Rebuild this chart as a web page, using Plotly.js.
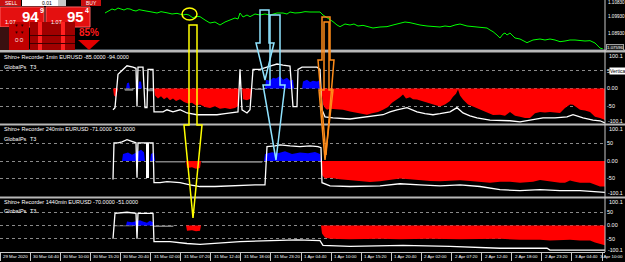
<!DOCTYPE html>
<html><head><meta charset="utf-8">
<script src="https://cdn.plot.ly/plotly-3.0.1.min.js"></script>
<style>html,body{margin:0;padding:0;background:#000;overflow:hidden}#chart{width:625px;height:262px}</style>
</head><body><div id="chart"></div>
<script>
// ---------- DATA ----------
const xTickLabels = ["29 Mar 2020","30 Mar 04:40","30 Mar 10:00","30 Mar 15:20","30 Mar 20:40","31 Mar 02:00","31 Mar 07:20","31 Mar 12:40","31 Mar 18:00","31 Mar 23:20","1 Apr 04:40","1 Apr 10:00","1 Apr 15:20","1 Apr 20:40","2 Apr 02:00","2 Apr 07:20","2 Apr 12:40","2 Apr 18:00","2 Apr 23:20","3 Apr 04:40","3 Apr 10:00"];
const xTickBars = [0,30.1,60.2,90.3,120.4,150.5,180.6,210.7,240.8,270.9,301,331.1,361.2,391.3,421.4,451.5,481.6,511.7,541.8,571.9,602];

const priceX = [105,108,112,115,118,121,124,127,130,133,136,139,142,146,150,153,157,161,165,168,172,177,183,186,189,193,196,200,205,210,215,220,225,230,235,238,240,243,247,250,255,260,265,270,274,277,283,287,290,295,300,305,310,317,320,323,328,333,337,340,345,350,354,358,363,367,373,380,387,393,400,405,410,415,420,427,433,440,445,450,455,460,467,473,480,487,490,493,497,500,503,505,507,510,513,515,520,524,527,533,540,545,550,555,560,565,570,575,580,585,590,595,598,600,603];
const priceY = [1.1023,1.1035,1.1047,1.1041,1.1053,1.1047,1.1041,1.1049,1.1047,1.1039,1.1035,1.1043,1.1041,1.1035,1.1031,1.1027,1.1023,1.1031,1.1029,1.1023,1.1017,1.1021,1.1011,1.1015,1.1011,1.0993,1.1003,1.1001,1.0981,1.0963,1.0969,1.0951,1.0969,1.0981,1.0993,1.0987,1.1023,1.0999,1.1011,1.1001,1.1017,1.1011,1.1017,1.1011,1.1019,1.1023,1.1023,1.1017,1.1029,1.1023,1.1025,1.1031,1.1029,1.1031,1.1029,1.1011,1.0993,1.0971,1.0951,1.0941,1.0957,1.0951,1.0957,1.0945,1.0949,1.0941,1.0933,1.0939,1.0941,1.0951,1.0963,1.0969,1.0965,1.0957,1.0951,1.0945,1.0941,1.0939,1.0945,1.0941,1.0951,1.0957,1.0945,1.0941,1.0939,1.0933,1.0921,1.0911,1.0891,1.0873,1.0897,1.0903,1.0891,1.0903,1.0885,1.0873,1.0867,1.0855,1.0845,1.0861,1.0867,1.0861,1.0867,1.0861,1.0851,1.0855,1.0861,1.0861,1.0857,1.0855,1.0857,1.0843,1.0825,1.0813,1.0807];
const priceTicks = [1.1083,1.0999,1.0897];
const priceTickText = ["1.10830","1.09930","1.08930"];
const lastPriceText = "1.07596";

// pane 1min
const m1LineX = [113,115,118,123,127,133,136,137,138,143,145,147,148,153,154,157,163,167,173,180,187,197,205,217,225,233,238,240,242,247,250,253,260,270,277,283,290,293,297,298,302,310,317,320,322,325,333,350,367,383,390,397,407,417,425,433,440,450,457,463,470,477,490,500,510,520,533,543,555,567,573,583,593,600,605];
const m1LineV = [-60,-54,40,54,64,60,57,-51,60,60,-54,-54,54,54,-66,-66,-66,-60,-66,-60,-69,-74,-74,-74,-71,-69,-66,54,-60,-69,-60,54,54,63,69,66,63,-51,-51,54,60,60,60,54,-60,-80,-83,-86,-80,-74,-66,-60,-54,-66,-71,-74,-71,-66,-54,-69,-77,-83,-89,-89,-91,-94,-89,-83,-83,-80,-74,-83,-89,-91,-97];
const m1RedX = [113,114,116,117,118,154,155,158,161,164,167,170,173,176,180,184,188,192,196,200,205,210,215,220,225,230,235,238,239,242,243,247,251,252,321,322,323,325,327,330,335,340,343,350,355,360,367,372,378,383,388,392,397,400,403,406,410,413,417,422,427,433,440,445,450,453,456,458,460,463,468,473,480,487,493,500,505,510,515,520,525,530,535,540,545,550,555,560,565,567,570,573,577,580,585,590,595,600,605];
const m1RedV = [0,-20,-25,-15,0,0,-20,-28,-22,-30,-25,-33,-28,-35,-30,-38,-42,-40,-48,-45,-52,-55,-50,-57,-55,-58,-55,-50,0,0,-30,-33,-28,0,0,-20,-45,-55,-60,-57,-58,-60,-60,-65,-68,-70,-74,-70,-66,-60,-52,-40,-31,-25,-17,-28,-25,-30,-31,-35,-40,-45,-51,-45,-35,-23,-15,-3,-20,-31,-45,-51,-60,-69,-75,-74,-77,-66,-77,-80,-83,-83,-70,-66,-68,-66,-68,-69,-55,-51,-45,-46,-55,-60,-62,-66,-80,-83,-89];
const m1BlueX = [126,127,129,130,138,139,141,142,265,266,270,273,276,280,283,287,290,293,294,302,303,307,310,313,317,320,321];
const m1BlueV = [0,15,17,0,0,20,20,0,0,25,22,30,28,35,25,30,22,25,0,0,20,25,18,22,20,24,0];
const m1GrayX = [124,125,133,134,146,147,153,154,254,255,263,264];
const m1GrayV = [0,-6,-6,0,0,-8,-8,0,0,-4,-4,0];

// pane 240min
const m240LineX = [113,114,118,122,127,133,136,137,138,147,153,154,160,167,180,190,200,215,230,240,255,265,267,275,280,290,300,310,318,321,322,330,350,380,400,420,440,460,480,500,520,540,560,580,600,605];
const m240LineV = [-53,52,52,55,61,55,52,-48,52,52,52,-62,-62,-59,-62,-68,-73,-73,-71,-68,-68,-68,41,43,46,43,41,43,41,38,-62,-71,-73,-71,-65,-68,-71,-68,-73,-82,-85,-82,-85,-85,-88,-90];
const m240RedX = [186,187,192,196,200,201,321,322,325,330,340,350,360,370,380,390,400,410,420,430,440,450,460,470,480,490,500,510,520,533,540,550,560,565,570,575,580,590,595,600,605];
const m240RedV = [0,-20,-18,-22,-20,0,0,-40,-50,-48,-52,-55,-58,-60,-58,-55,-50,-52,-55,-57,-58,-56,-55,-57,-60,-62,-59,-59,-62,-59,-54,-59,-62,-62,-56,-59,-62,-62,-68,-73,-73];
const m240BlueX = [122,123,128,132,135,138,141,144,145,150,151,154,155,264,265,272,278,285,292,300,308,315,320,321];
const m240BlueV = [0,20,24,18,22,28,32,25,0,0,20,25,0,0,20,25,22,28,20,24,22,26,20,0];
const m240GrayX = [155,156,185,186,201,202,262,263];
const m240GrayV = [0,-4,-4,0,0,-5,-5,0];
const m240BarX = [147.5];
const m240BarBase = [-48];
const m240BarLen = [100];

// pane 1440min
const m1440LineX = [113,115,127,136,137,138,147,153,154,170,187,200,240,277,297,320,323,350,403,450,500,547,550,600,605];
const m1440LineV = [-50,46,50,46,-50,46,46,46,-61,-61,-68,-71,-61,-57,-54,-57,-75,-79,-75,-79,-86,-86,-93,-93,-93];
const m1440RedX = [186,187,192,196,200,201,321,322,325,330,350,380,400,430,460,500,520,540,550,570,580,590,595,600,605];
const m1440RedV = [0,-20,-18,-22,-20,0,0,-30,-45,-50,-52,-50,-52,-50,-52,-50,-54,-54,-57,-54,-57,-57,-64,-71,-75];
const m1440BlueX = [126,127,132,137,140,143,147,150,153,154];
const m1440BlueV = [0,15,12,18,20,15,10,18,12,0];
const m1440GrayX = [113,114,133,134,153,154,173,174];
const m1440GrayV = [0,-3,-3,0,0,-6,-6,0];

const oscTickVals = [50,0,-50];
const oscTickText = ["50","0.00","-50"];
const oscEdgeText = ["100.1","-100.1"];

// ---------- BUILD ----------
const FONT = "Liberation Sans, Arial, sans-serif";
function fillTrace(x, y, ya, color){
  return {type:'scatter', mode:'lines', x:x, y:y, yaxis:ya, xaxis:'x', fill:'tozeroy', fillcolor:color, line:{width:0, color:color}, hoverinfo:'skip', showlegend:false};
}
function lineTrace(x, y, ya, color, w){
  return {type:'scatter', mode:'lines', x:x, y:y, yaxis:ya, xaxis:'x', line:{width:w, color:color}, hoverinfo:'skip', showlegend:false};
}
const traces = [
  lineTrace(priceX, priceY, 'y', '#00ff00', 1),
  fillTrace(m1RedX, m1RedV, 'y2', '#ff0000'),
  fillTrace(m1BlueX, m1BlueV, 'y2', '#0000ff'),
  fillTrace(m1GrayX, m1GrayV, 'y2', '#808080'),
  lineTrace(m1LineX, m1LineV, 'y2', '#ffffff', 1.3),
  fillTrace(m240RedX, m240RedV, 'y3', '#ff0000'),
  fillTrace(m240BlueX, m240BlueV, 'y3', '#0000ff'),
  fillTrace(m240GrayX, m240GrayV, 'y3', '#808080'),
  {type:'bar', x:m240BarX, y:m240BarLen, base:m240BarBase, width:3, yaxis:'y3', xaxis:'x', marker:{color:'#ffffff', line:{width:0}}, hoverinfo:'skip', showlegend:false},
  lineTrace(m240LineX, m240LineV, 'y3', '#ffffff', 1.3),
  fillTrace(m1440RedX, m1440RedV, 'y4', '#ff0000'),
  fillTrace(m1440BlueX, m1440BlueV, 'y4', '#0000ff'),
  fillTrace(m1440GrayX, m1440GrayV, 'y4', '#808080'),
  lineTrace(m1440LineX, m1440LineV, 'y4', '#ffffff', 1.3)
];

const H = 252, W = 625;
const px = x => x / W, py = y => (H - y) / H;
function rect(x0, y0, x1, y1, fill, lc){
  return {type:'rect', xref:'paper', yref:'paper', x0:px(x0), x1:px(x1), y0:py(y1), y1:py(y0), fillcolor:fill, line:{width: lc ? 1 : 0, color: lc || fill}, layer:'above'};
}
function poly(pts, color, fill, w){
  const d = 'M ' + pts.map(p => px(p[0]) + ',' + py(p[1])).join(' L ') + ' Z';
  return {type:'path', xref:'paper', yref:'paper', path:d, line:{color:color, width:w}, fillcolor:fill, layer:'above'};
}
function ann(x, y, text, size, color, opts){
  return Object.assign({xref:'paper', yref:'paper', x:px(x), y:py(y), text:text, showarrow:false, xanchor:'left', yanchor:'middle', font:{family:FONT, size:size, color:color}}, opts || {});
}

const oscAxis = (dom, ttext) => ({domain:dom, range:[-100.1,100.1], side:'right', anchor:'x', tickvals:oscTickVals, ticktext:ttext, showgrid:true, gridcolor:'#8a8a8a', griddash:'dot', gridwidth:1, zeroline:false, showline:false, ticks:'', ticklabelstandoff:1, tickfont:{family:FONT, size:5.5, color:'#ffffff'}, fixedrange:true});

const shapes = [
  rect(0, 49, 625, 50, '#404850'),
  rect(0, 50, 625, 52.5, '#b8b8b8'),
  rect(0, 123.5, 625, 125.5, '#b8b8b8'),
  rect(0, 196.5, 625, 198.5, '#b8b8b8'),
  {type:'line', xref:'paper', yref:'paper', x0:px(605), x1:px(605), y0:py(252), y1:py(0), line:{color:'#c8c8c8', width:1}, layer:'above'},
  // trade panel
  rect(0, 0, 21, 6, '#c81010'),
  rect(22, 0, 58, 6, '#ffffff'),
  rect(58, 0, 66, 6, '#c8c8c8'),
  rect(81, 0, 101, 6, '#c81010'),
  rect(0, 7, 44, 27, '#e41010', '#ff6060'),
  rect(46, 7, 90, 27, '#e41010', '#ff6060'),
  rect(0, 27, 9, 50, '#3a1010'),
  rect(9, 22, 29, 50, '#c00000'),
  rect(30, 22, 75, 50, '#a00000'),
  rect(38, 22, 42, 50, '#ff2020'),
  rect(61, 22, 65, 50, '#ff2020'),
  rect(30, 35, 75, 36, '#400000'),
  rect(30, 43, 75, 44, '#400000'),
  poly([[78,40],[100,40],[89,50]], '#e00000', '#e00000', 0),
  // hand drawn markers
  {type:'circle', xref:'paper', yref:'paper', x0:px(182), x1:px(197), y0:py(20), y1:py(8), line:{color:'#ffff00', width:1.5}, layer:'above'},
  poly([[189,25],[197,25],[197,125],[202,125],[193,218],[184,125],[189,125]], '#ffff00', 'rgba(0,0,0,0)', 1.5),
  poly([[260,10],[269,10],[269,43],[274,43],[265,80],[256,43],[260,43]], '#8fe3ff', 'rgba(0,0,0,0)', 1.5),
  poly([[270,15],[280,15],[280,85],[285,85],[276,160],[263,85],[270,85]], '#8fe3ff', 'rgba(0,0,0,0)', 1.5),
  poly([[322,17],[330,17],[330,60],[334,60],[326,155],[318,60],[322,60]], '#ff8c1a', 'rgba(0,0,0,0)', 1.5),
  poly([[324,22],[329,22],[329,90],[333,90],[325,160],[319,90],[324,90]], '#ff8c1a', 'rgba(0,0,0,0)', 1.5)
];

const priceYpx = [3, 17, 34];
const annotations = [
  ann(2, 57, 'Shiro+ Recorder 1min EURUSD -85.0000 -94.0000', 5.5, '#ffffff'),
  ann(2, 67, 'GlobalPs', 5.5, '#ffffff'), ann(28, 67, 'T3', 5.5, '#ffffff'),
  ann(2, 129, 'Shiro+ Recorder 240min EURUSD -71.0000 -52.0000', 5.5, '#ffffff'),
  ann(2, 139, 'GlobalPs', 5.5, '#ffffff'), ann(28, 139, 'T3', 5.5, '#ffffff'),
  ann(2, 202, 'Shiro+ Recorder 1440min EURUSD -70.0000 -51.0000', 5.5, '#ffffff'),
  ann(2, 211, 'GlobalPs', 5.5, '#ffffff'), ann(28, 211, 'T3', 5.5, '#ffffff'),
  ann(607, 56, oscEdgeText[0], 5.5, '#ffffff'), ann(606, 121, oscEdgeText[1], 5.2, '#ffffff'),
  ann(607, 129, oscEdgeText[0], 5.5, '#ffffff'), ann(606, 193, oscEdgeText[1], 5.2, '#ffffff'),
  ann(607, 202, oscEdgeText[0], 5.5, '#ffffff'), ann(606, 250, oscEdgeText[1], 5.2, '#ffffff'),
  ann(609, 71, 'Vertica', 5, '#000000', {bgcolor:'#ffffff', borderpad:0}),
  ann(606, 47, lastPriceText, 4.4, '#ffffff', {bgcolor:'#202020', bordercolor:'#a0a0a0', borderwidth:1, borderpad:0}),
  // trade panel text
  ann(10.5, 3, 'SELL', 5, '#ffffff', {xanchor:'center'}),
  ann(47, 3, '0.01', 5, '#000000', {xanchor:'center'}),
  ann(91, 3, 'BUY', 5, '#ffffff', {xanchor:'center'}),
  ann(3, 22, '1.07', 5.5, '#ffffff'),
  ann(20, 16, '<b>94</b>', 15, '#ffffff'),
  ann(38, 11, '<b>9</b>', 7, '#ffffff'),
  ann(49, 22, '1.07', 5.5, '#ffffff'),
  ann(65, 16, '<b>95</b>', 15, '#ffffff'),
  ann(83, 11, '<b>4</b>', 7, '#ffffff'),
  ann(89, 33, '<b>85%</b>', 10, '#ff1a1a', {xanchor:'center'}),
  ann(19, 26, '▼ ▼', 4.5, '#300000', {xanchor:'center'}),
  ann(19, 32, '▼ ▼', 4.5, '#300000', {xanchor:'center'}),
  ann(19, 40, 'O O', 4.5, '#ffffff', {xanchor:'center'})
];
priceTickText.forEach((t, i) => annotations.push(ann(606, priceYpx[i], t, 4.6, '#ffffff')));
xTickLabels.forEach((t, i) => {
  const last = i === xTickLabels.length - 1;
  annotations.push(last
    ? {xref:'paper', yref:'paper', x:px(624.5), y:py(256.5), text:t, showarrow:false, xanchor:'right', yanchor:'middle', font:{family:FONT, size:4.4, color:'#ffffff'}}
    : {xref:'x', yref:'paper', x:xTickBars[i] + 1, y:py(256.5), text:t, showarrow:false, xanchor:'left', yanchor:'middle', font:{family:FONT, size:4.4, color:'#ffffff'}});
});

const layout = {
  width:625, height:262, paper_bgcolor:'#000000', plot_bgcolor:'#000000',
  margin:{l:0, r:0, t:0, b:10}, showlegend:false, dragmode:false,
  font:{family:FONT, color:'#ffffff', size:5.5},
  xaxis:{domain:[0, 605/625], range:[0,605], anchor:'y4', tickvals:xTickBars, showticklabels:false, ticks:'outside', ticklen:8, tickcolor:'#c8c8c8', tickwidth:1, showgrid:false, zeroline:false, showline:true, linecolor:'#c8c8c8', fixedrange:true},
  yaxis:{domain:[py(49), 1], range:[1.1101-0.0006*49, 1.1101], side:'right', anchor:'x', showticklabels:false, showgrid:false, zeroline:false, showline:false, ticks:'', fixedrange:true},
  yaxis2:oscAxis([py(124), py(53)], ["5","0.00","-50"]),
  yaxis3:oscAxis([py(196), py(126)], oscTickText),
  yaxis4:oscAxis([0, py(199)], oscTickText),
  bargap:0,
  shapes:shapes, annotations:annotations
};

Plotly.newPlot('chart', traces, layout, {staticPlot:true, displayModeBar:false});
</script></body></html>
